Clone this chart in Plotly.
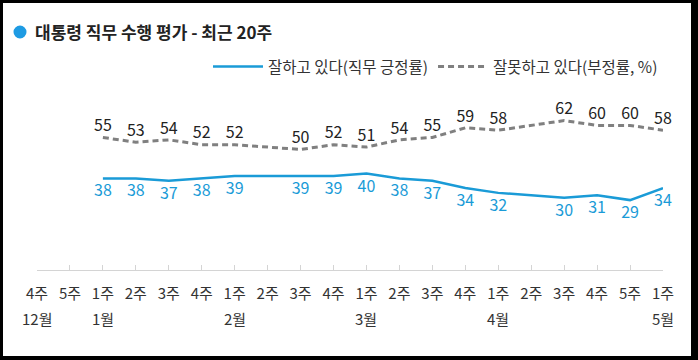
import plotly.graph_objects as go

W, H = 698, 360
L, R, T, B = 37, 35, 101, 90
PW, PH = W - L - R, H - T - B

weeks = ["4주", "5주", "1주", "2주", "3주", "4주", "1주", "2주", "3주", "4주",
         "1주", "2주", "3주", "4주", "1주", "2주", "3주", "4주", "5주", "1주"]
months = ["12월", "", "1월", "", "", "", "2월", "", "", "",
          "3월", "", "", "", "4월", "", "", "", "", "5월"]
approve = [None, None, 38, 38, 37, 38, 39, None, 39, 39, 40, 38, 37, 34, 32, None, 30, 31, 29, 34]
disapprove = [None, None, 55, 53, 54, 52, 52, None, 50, 52, 51, 54, 55, 59, 58, None, 62, 60, 60, 58]

FONT = "Noto Sans CJK KR"
BLUE = "#1a9bd7"
GRAY = "#808080"
x = list(range(len(weeks)))


def px_x(p):
    return (p - L) / PW


def px_y(p):
    return (H - B - p) / PH


fig = go.Figure()
fig.add_trace(go.Scatter(
    x=x, y=approve, mode="lines+markers+text", name="잘하고 있다(직무 긍정률)",
    line=dict(color=BLUE, width=2.5), connectgaps=True,
    marker=dict(size=8, color="rgba(0,0,0,0)"),
    text=["" if v is None else str(v) for v in approve],
    textposition="bottom center",
    textfont=dict(family=FONT, size=16, color=BLUE),
    cliponaxis=False, hoverinfo="skip",
))
fig.add_trace(go.Scatter(
    x=x, y=disapprove, mode="lines+markers+text", name="잘못하고 있다(부정률, %)",
    line=dict(color=GRAY, width=3, dash="6px,4px"), connectgaps=True,
    marker=dict(size=2, color="rgba(0,0,0,0)"),
    text=["" if v is None else str(v) for v in disapprove],
    textposition="top center",
    textfont=dict(family=FONT, size=16, color="#222222"),
    cliponaxis=False, hoverinfo="skip",
))

annotations = []
for i, m in enumerate(months):
    if m:
        annotations.append(dict(
            x=i, xref="x", y=px_y(318), yref="paper", text=m, showarrow=False,
            xanchor="center", yanchor="middle",
            font=dict(family=FONT, size=15, color="#333333"),
        ))
annotations.append(dict(
    x=px_x(33), xref="paper", y=px_y(32), yref="paper",
    text="<b>대통령 직무 수행 평가 - 최근 20주</b>", showarrow=False,
    xanchor="left", yanchor="middle",
    font=dict(family=FONT, size=17, color="#222222"),
))

shapes = [
    dict(type="circle", xref="paper", yref="paper",
         x0=px_x(13.5), x1=px_x(26.5), y0=px_y(38.5), y1=px_y(25.5),
         fillcolor="#1e9be3", line=dict(width=0)),
    # black frame
    dict(type="rect", xref="paper", yref="paper", x0=px_x(0), x1=px_x(3),
         y0=px_y(H), y1=px_y(0), fillcolor="black", line=dict(width=0)),
    dict(type="rect", xref="paper", yref="paper", x0=px_x(691), x1=px_x(W),
         y0=px_y(H), y1=px_y(0), fillcolor="black", line=dict(width=0)),
    dict(type="rect", xref="paper", yref="paper", x0=px_x(0), x1=px_x(W),
         y0=px_y(3), y1=px_y(0), fillcolor="black", line=dict(width=0)),
    dict(type="rect", xref="paper", yref="paper", x0=px_x(0), x1=px_x(W),
         y0=px_y(H), y1=px_y(356), fillcolor="black", line=dict(width=0)),
]

fig.update_layout(
    width=W, height=H,
    margin=dict(l=L, r=R, t=T, b=B, pad=0, autoexpand=False),
    paper_bgcolor="white", plot_bgcolor="white",
    font=dict(family=FONT, size=14, color="#333333"),
    showlegend=True, hovermode=False,
    legend=dict(orientation="h", x=1.0, xanchor="right", y=px_y(67), yanchor="middle",
                font=dict(family=FONT, size=15.5, color="#333333"),
                itemwidth=50, bgcolor="rgba(0,0,0,0)"),
    xaxis=dict(range=[0, len(weeks) - 1], tickvals=x, ticktext=weeks,
               showgrid=False, zeroline=False, showline=True, linecolor="#d4d4d4",
               linewidth=1, ticks="inside", ticklen=5, tickcolor="#d4d4d4",
               tickfont=dict(family=FONT, size=15, color="#333333"),
               ticklabelstandoff=10, fixedrange=True, automargin=False),
    yaxis=dict(range=[0, PH / 2.41], visible=False, fixedrange=True, automargin=False),
    annotations=annotations,
    shapes=shapes,
)

fig.write_html(
    "out.html",
    config={"displayModeBar": False, "staticPlot": True},
    post_script="document.body.style.margin='0';document.body.style.overflow='hidden';",
)
